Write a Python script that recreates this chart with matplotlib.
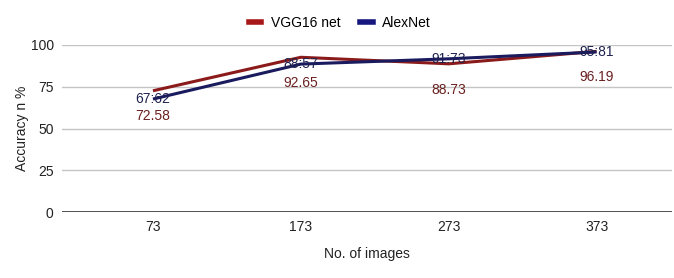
import matplotlib
matplotlib.use("Agg")
import matplotlib.pyplot as plt
from matplotlib.lines import Line2D

categories = ["73", "173", "273", "373"]
vgg16 = [72.58, 92.65, 88.73, 96.19]
alexnet = [67.62, 88.57, 91.73, 95.81]
vgg_labels = ["72.58", "92.65", "88.73", "96.19"]
alex_labels = ["67:62", "88:57", "91:73", "95:81"]
yticks = [0, 25, 50, 75, 100]

plt.rcParams['font.family'] = ['Liberation Sans', 'DejaVu Sans']

VGG_C = "#8b1a1a"
ALEX_C = "#1a1a5e"
VGG_T = "#6b2020"
ALEX_T = "#1f2350"

fig = plt.figure(figsize=(6.74, 2.78), dpi=100)
ax = fig.add_axes([62/674, 1-212/278, 610/674, 167/278])

x = list(range(len(categories)))
ax.plot(x, vgg16, color=VGG_C, lw=2.2, solid_capstyle='butt', zorder=3)
ax.plot(x, alexnet, color=ALEX_C, lw=2.2, solid_capstyle='butt', zorder=4)

for xi, v, t in zip(x, vgg16, vgg_labels):
    ax.annotate(t, (xi, v), xytext=(0, -18.5), textcoords='offset points',
                ha='center', va='center', color=VGG_T, fontsize=10, zorder=5)
for xi, v, t in zip(x, alexnet, alex_labels):
    ax.annotate(t, (xi, v), xytext=(0, 0), textcoords='offset points',
                ha='center', va='center', color=ALEX_T, fontsize=10, zorder=5)

ax.set_xlim(-0.615, 3.51)
ax.set_ylim(0, 100)
ax.set_yticks(yticks)
ax.set_xticks(x)
ax.set_xticklabels(categories)
ax.grid(axis='y', color='#c4c4c4', lw=1)
ax.axhline(0, color='#333333', lw=1.2, zorder=2)
for s in ax.spines.values():
    s.set_visible(False)
ax.tick_params(axis='both', length=0, labelsize=10, colors='#222222')
ax.tick_params(axis='y', pad=6)
ax.tick_params(axis='x', pad=6)

ax.set_xlabel("No. of images", fontsize=10, color='#222222', labelpad=9)
ax.set_ylabel("Accuracy n %", fontsize=10, color='#222222')
ax.yaxis.set_label_coords(-40/610, 0.5)
ax.yaxis.label.set_va('center')

handles = [Line2D([0], [0], color="#a81818", lw=4),
           Line2D([0], [0], color="#16167e", lw=4)]
fig.legend(handles, ["VGG16 net", "AlexNet"], loc='center',
           bbox_to_anchor=(340/674, 1-23/278), ncol=2, frameon=False,
           fontsize=10, handlelength=0.9, columnspacing=1.4, handletextpad=0.7)

fig.savefig("out.png", dpi=100, facecolor='white')
